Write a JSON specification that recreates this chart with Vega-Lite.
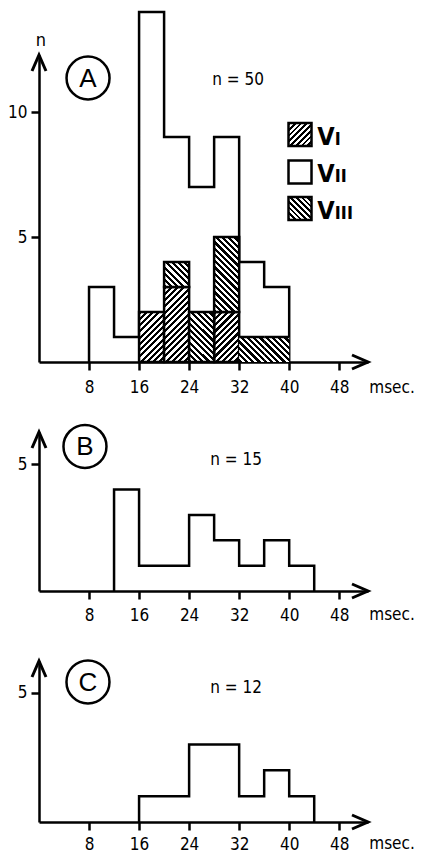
{
"$schema": "https://vega.github.io/schema/vega-lite/v6.json",
"background": "white",
"padding": {"left": 7, "top": 6, "right": 5, "bottom": 0},
"bounds": "flush",
"spacing": 70,
"datasets": {
 "outline": [
  {"panel":"A","ms":8,"n":0},{"panel":"A","ms":8,"n":3},{"panel":"A","ms":12,"n":1},{"panel":"A","ms":16,"n":14},{"panel":"A","ms":20,"n":9},{"panel":"A","ms":24,"n":7},{"panel":"A","ms":28,"n":9},{"panel":"A","ms":32,"n":4},{"panel":"A","ms":36,"n":3},{"panel":"A","ms":40,"n":0},
  {"panel":"B","ms":12,"n":0},{"panel":"B","ms":12,"n":4},{"panel":"B","ms":16,"n":1},{"panel":"B","ms":20,"n":1},{"panel":"B","ms":24,"n":3},{"panel":"B","ms":28,"n":2},{"panel":"B","ms":32,"n":1},{"panel":"B","ms":36,"n":2},{"panel":"B","ms":40,"n":1},{"panel":"B","ms":44,"n":0},
  {"panel":"C","ms":16,"n":0},{"panel":"C","ms":16,"n":1},{"panel":"C","ms":20,"n":1},{"panel":"C","ms":24,"n":3},{"panel":"C","ms":28,"n":3},{"panel":"C","ms":32,"n":1},{"panel":"C","ms":36,"n":2},{"panel":"C","ms":40,"n":1},{"panel":"C","ms":44,"n":0}
 ],
 "hatch": [
  {"start":16,"end":20,"series":"VI","n":2},
  {"start":20,"end":24,"series":"VI","n":3},
  {"start":28,"end":32,"series":"VI","n":2},
  {"start":20,"end":24,"series":"VIII","n":1},
  {"start":24,"end":28,"series":"VIII","n":2},
  {"start":28,"end":32,"series":"VIII","n":3},
  {"start":32,"end":36,"series":"VIII","n":1},
  {"start":36,"end":40,"series":"VIII","n":1}
 ]
},
"config": {
 "view": {"stroke": null},
 "text": {"color": "black", "font": "DejaVu Sans Condensed, Roboto, sans-serif"},
 "axis": {"domainColor": "black", "domainWidth": 2.5, "tickColor": "black", "tickWidth": 2.5, "tickSize": 8, "labelColor": "black", "labelFont": "DejaVu Sans Condensed, Roboto, sans-serif", "labelFontSize": 17, "grid": false},
 "axisX": {"labelPadding": 10, "labelAngle": 0},
 "axisY": {"labelPadding": 4}
},
"vconcat": [
 {
  "width": 329, "height": 307,
  "resolve": {"axis": {"x": "independent", "y": "independent"}},
  "layer": [
   {"data": {"name": "outline"}, "transform": [{"filter": "datum.panel === 'A'"}],
    "mark": {"type": "line", "interpolate": "step-after", "color": "black", "strokeWidth": 2.5, "strokeJoin": "miter"},
    "encoding": {
     "x": {"field": "ms", "type": "quantitative", "scale": {"domain": [0, 52.6], "nice": false}, "axis": {"values": [8,16,24,32,40,48], "title": null, "labelPadding": 9}},
     "y": {"field": "n", "type": "quantitative", "scale": {"domain": [0, 12.28], "nice": false}, "axis": {"values": [5,10], "title": null}}}},
   {"data": {"name": "hatch"}, "transform": [{"stack": "n", "groupby": ["start"], "sort": [{"field": "series"}], "as": ["lo", "hi"]}, {"filter": "datum.series === 'VI' && datum.n === 2"}],
    "mark": {"type": "rect", "stroke": "black", "strokeWidth": 2.5, "fill": {"gradient": "linear", "x1": 0, "y1": 0, "x2": 0.6, "y2": 1.2, "stops": [{"offset":0,"color":"#000"},{"offset":0.041667,"color":"#000"},{"offset":0.041667,"color":"#fff"},{"offset":0.083333,"color":"#fff"},{"offset":0.083333,"color":"#000"},{"offset":0.125,"color":"#000"},{"offset":0.125,"color":"#fff"},{"offset":0.166667,"color":"#fff"},{"offset":0.166667,"color":"#000"},{"offset":0.208333,"color":"#000"},{"offset":0.208333,"color":"#fff"},{"offset":0.25,"color":"#fff"},{"offset":0.25,"color":"#000"},{"offset":0.291667,"color":"#000"},{"offset":0.291667,"color":"#fff"},{"offset":0.333333,"color":"#fff"},{"offset":0.333333,"color":"#000"},{"offset":0.375,"color":"#000"},{"offset":0.375,"color":"#fff"},{"offset":0.416667,"color":"#fff"},{"offset":0.416667,"color":"#000"},{"offset":0.458333,"color":"#000"},{"offset":0.458333,"color":"#fff"},{"offset":0.5,"color":"#fff"},{"offset":0.5,"color":"#000"},{"offset":0.541667,"color":"#000"},{"offset":0.541667,"color":"#fff"},{"offset":0.583333,"color":"#fff"},{"offset":0.583333,"color":"#000"},{"offset":0.625,"color":"#000"},{"offset":0.625,"color":"#fff"},{"offset":0.666667,"color":"#fff"},{"offset":0.666667,"color":"#000"},{"offset":0.708333,"color":"#000"},{"offset":0.708333,"color":"#fff"},{"offset":0.75,"color":"#fff"},{"offset":0.75,"color":"#000"},{"offset":0.791667,"color":"#000"},{"offset":0.791667,"color":"#fff"},{"offset":0.833333,"color":"#fff"},{"offset":0.833333,"color":"#000"},{"offset":0.875,"color":"#000"},{"offset":0.875,"color":"#fff"},{"offset":0.916667,"color":"#fff"},{"offset":0.916667,"color":"#000"},{"offset":0.958333,"color":"#000"},{"offset":0.958333,"color":"#fff"},{"offset":1,"color":"#fff"}]}},
    "encoding": {"x": {"field": "start", "type": "quantitative", "axis": null}, "x2": {"field": "end"}, "y": {"field": "lo", "type": "quantitative", "axis": null}, "y2": {"field": "hi"}}},
   {"data": {"name": "hatch"}, "transform": [{"stack": "n", "groupby": ["start"], "sort": [{"field": "series"}], "as": ["lo", "hi"]}, {"filter": "datum.series === 'VI' && datum.n === 3"}],
    "mark": {"type": "rect", "stroke": "black", "strokeWidth": 2.5, "fill": {"gradient": "linear", "x1": 0, "y1": 0, "x2": 0.4, "y2": 1.2, "stops": [{"offset":0,"color":"#000"},{"offset":0.03125,"color":"#000"},{"offset":0.03125,"color":"#fff"},{"offset":0.0625,"color":"#fff"},{"offset":0.0625,"color":"#000"},{"offset":0.09375,"color":"#000"},{"offset":0.09375,"color":"#fff"},{"offset":0.125,"color":"#fff"},{"offset":0.125,"color":"#000"},{"offset":0.15625,"color":"#000"},{"offset":0.15625,"color":"#fff"},{"offset":0.1875,"color":"#fff"},{"offset":0.1875,"color":"#000"},{"offset":0.21875,"color":"#000"},{"offset":0.21875,"color":"#fff"},{"offset":0.25,"color":"#fff"},{"offset":0.25,"color":"#000"},{"offset":0.28125,"color":"#000"},{"offset":0.28125,"color":"#fff"},{"offset":0.3125,"color":"#fff"},{"offset":0.3125,"color":"#000"},{"offset":0.34375,"color":"#000"},{"offset":0.34375,"color":"#fff"},{"offset":0.375,"color":"#fff"},{"offset":0.375,"color":"#000"},{"offset":0.40625,"color":"#000"},{"offset":0.40625,"color":"#fff"},{"offset":0.4375,"color":"#fff"},{"offset":0.4375,"color":"#000"},{"offset":0.46875,"color":"#000"},{"offset":0.46875,"color":"#fff"},{"offset":0.5,"color":"#fff"},{"offset":0.5,"color":"#000"},{"offset":0.53125,"color":"#000"},{"offset":0.53125,"color":"#fff"},{"offset":0.5625,"color":"#fff"},{"offset":0.5625,"color":"#000"},{"offset":0.59375,"color":"#000"},{"offset":0.59375,"color":"#fff"},{"offset":0.625,"color":"#fff"},{"offset":0.625,"color":"#000"},{"offset":0.65625,"color":"#000"},{"offset":0.65625,"color":"#fff"},{"offset":0.6875,"color":"#fff"},{"offset":0.6875,"color":"#000"},{"offset":0.71875,"color":"#000"},{"offset":0.71875,"color":"#fff"},{"offset":0.75,"color":"#fff"},{"offset":0.75,"color":"#000"},{"offset":0.78125,"color":"#000"},{"offset":0.78125,"color":"#fff"},{"offset":0.8125,"color":"#fff"},{"offset":0.8125,"color":"#000"},{"offset":0.84375,"color":"#000"},{"offset":0.84375,"color":"#fff"},{"offset":0.875,"color":"#fff"},{"offset":0.875,"color":"#000"},{"offset":0.90625,"color":"#000"},{"offset":0.90625,"color":"#fff"},{"offset":0.9375,"color":"#fff"},{"offset":0.9375,"color":"#000"},{"offset":0.96875,"color":"#000"},{"offset":0.96875,"color":"#fff"},{"offset":1,"color":"#fff"}]}},
    "encoding": {"x": {"field": "start", "type": "quantitative", "axis": null}, "x2": {"field": "end"}, "y": {"field": "lo", "type": "quantitative", "axis": null}, "y2": {"field": "hi"}}},
   {"data": {"name": "hatch"}, "transform": [{"stack": "n", "groupby": ["start"], "sort": [{"field": "series"}], "as": ["lo", "hi"]}, {"filter": "datum.series === 'VIII' && datum.n === 1 && datum.start < 30"}],
    "mark": {"type": "rect", "stroke": "black", "strokeWidth": 2.5, "fill": {"gradient": "linear", "x1": 0, "y1": 1, "x2": 1, "y2": 0, "stops": [{"offset":0,"color":"#000"},{"offset":0.0625,"color":"#000"},{"offset":0.0625,"color":"#fff"},{"offset":0.125,"color":"#fff"},{"offset":0.125,"color":"#000"},{"offset":0.1875,"color":"#000"},{"offset":0.1875,"color":"#fff"},{"offset":0.25,"color":"#fff"},{"offset":0.25,"color":"#000"},{"offset":0.3125,"color":"#000"},{"offset":0.3125,"color":"#fff"},{"offset":0.375,"color":"#fff"},{"offset":0.375,"color":"#000"},{"offset":0.4375,"color":"#000"},{"offset":0.4375,"color":"#fff"},{"offset":0.5,"color":"#fff"},{"offset":0.5,"color":"#000"},{"offset":0.5625,"color":"#000"},{"offset":0.5625,"color":"#fff"},{"offset":0.625,"color":"#fff"},{"offset":0.625,"color":"#000"},{"offset":0.6875,"color":"#000"},{"offset":0.6875,"color":"#fff"},{"offset":0.75,"color":"#fff"},{"offset":0.75,"color":"#000"},{"offset":0.8125,"color":"#000"},{"offset":0.8125,"color":"#fff"},{"offset":0.875,"color":"#fff"},{"offset":0.875,"color":"#000"},{"offset":0.9375,"color":"#000"},{"offset":0.9375,"color":"#fff"},{"offset":1,"color":"#fff"}]}},
    "encoding": {"x": {"field": "start", "type": "quantitative", "axis": null}, "x2": {"field": "end"}, "y": {"field": "lo", "type": "quantitative", "axis": null}, "y2": {"field": "hi"}}},
   {"data": {"name": "hatch"}, "transform": [{"stack": "n", "groupby": ["start"], "sort": [{"field": "series"}], "as": ["lo", "hi"]}, {"filter": "datum.series === 'VIII' && datum.n === 1 && datum.start > 30"}],
    "mark": {"type": "rect", "fill": {"gradient": "linear", "x1": 0, "y1": 1, "x2": 1, "y2": 0, "stops": [{"offset":0,"color":"#000"},{"offset":0.0625,"color":"#000"},{"offset":0.0625,"color":"#fff"},{"offset":0.125,"color":"#fff"},{"offset":0.125,"color":"#000"},{"offset":0.1875,"color":"#000"},{"offset":0.1875,"color":"#fff"},{"offset":0.25,"color":"#fff"},{"offset":0.25,"color":"#000"},{"offset":0.3125,"color":"#000"},{"offset":0.3125,"color":"#fff"},{"offset":0.375,"color":"#fff"},{"offset":0.375,"color":"#000"},{"offset":0.4375,"color":"#000"},{"offset":0.4375,"color":"#fff"},{"offset":0.5,"color":"#fff"},{"offset":0.5,"color":"#000"},{"offset":0.5625,"color":"#000"},{"offset":0.5625,"color":"#fff"},{"offset":0.625,"color":"#fff"},{"offset":0.625,"color":"#000"},{"offset":0.6875,"color":"#000"},{"offset":0.6875,"color":"#fff"},{"offset":0.75,"color":"#fff"},{"offset":0.75,"color":"#000"},{"offset":0.8125,"color":"#000"},{"offset":0.8125,"color":"#fff"},{"offset":0.875,"color":"#fff"},{"offset":0.875,"color":"#000"},{"offset":0.9375,"color":"#000"},{"offset":0.9375,"color":"#fff"},{"offset":1,"color":"#fff"}]}},
    "encoding": {"x": {"field": "start", "type": "quantitative", "axis": null}, "x2": {"field": "end"}, "y": {"field": "lo", "type": "quantitative", "axis": null}, "y2": {"field": "hi"}}},
   {"data": {"name": "hatch"}, "transform": [{"stack": "n", "groupby": ["start"], "sort": [{"field": "series"}], "as": ["lo", "hi"]}, {"filter": "datum.series === 'VIII' && datum.n === 2"}],
    "mark": {"type": "rect", "stroke": "black", "strokeWidth": 2.5, "fill": {"gradient": "linear", "x1": 0, "y1": 1, "x2": 0.6, "y2": -0.2, "stops": [{"offset":0,"color":"#000"},{"offset":0.041667,"color":"#000"},{"offset":0.041667,"color":"#fff"},{"offset":0.083333,"color":"#fff"},{"offset":0.083333,"color":"#000"},{"offset":0.125,"color":"#000"},{"offset":0.125,"color":"#fff"},{"offset":0.166667,"color":"#fff"},{"offset":0.166667,"color":"#000"},{"offset":0.208333,"color":"#000"},{"offset":0.208333,"color":"#fff"},{"offset":0.25,"color":"#fff"},{"offset":0.25,"color":"#000"},{"offset":0.291667,"color":"#000"},{"offset":0.291667,"color":"#fff"},{"offset":0.333333,"color":"#fff"},{"offset":0.333333,"color":"#000"},{"offset":0.375,"color":"#000"},{"offset":0.375,"color":"#fff"},{"offset":0.416667,"color":"#fff"},{"offset":0.416667,"color":"#000"},{"offset":0.458333,"color":"#000"},{"offset":0.458333,"color":"#fff"},{"offset":0.5,"color":"#fff"},{"offset":0.5,"color":"#000"},{"offset":0.541667,"color":"#000"},{"offset":0.541667,"color":"#fff"},{"offset":0.583333,"color":"#fff"},{"offset":0.583333,"color":"#000"},{"offset":0.625,"color":"#000"},{"offset":0.625,"color":"#fff"},{"offset":0.666667,"color":"#fff"},{"offset":0.666667,"color":"#000"},{"offset":0.708333,"color":"#000"},{"offset":0.708333,"color":"#fff"},{"offset":0.75,"color":"#fff"},{"offset":0.75,"color":"#000"},{"offset":0.791667,"color":"#000"},{"offset":0.791667,"color":"#fff"},{"offset":0.833333,"color":"#fff"},{"offset":0.833333,"color":"#000"},{"offset":0.875,"color":"#000"},{"offset":0.875,"color":"#fff"},{"offset":0.916667,"color":"#fff"},{"offset":0.916667,"color":"#000"},{"offset":0.958333,"color":"#000"},{"offset":0.958333,"color":"#fff"},{"offset":1,"color":"#fff"}]}},
    "encoding": {"x": {"field": "start", "type": "quantitative", "axis": null}, "x2": {"field": "end"}, "y": {"field": "lo", "type": "quantitative", "axis": null}, "y2": {"field": "hi"}}},
   {"data": {"name": "hatch"}, "transform": [{"stack": "n", "groupby": ["start"], "sort": [{"field": "series"}], "as": ["lo", "hi"]}, {"filter": "datum.series === 'VIII' && datum.n === 3"}],
    "mark": {"type": "rect", "stroke": "black", "strokeWidth": 2.5, "fill": {"gradient": "linear", "x1": 0, "y1": 1, "x2": 0.4, "y2": -0.2, "stops": [{"offset":0,"color":"#000"},{"offset":0.03125,"color":"#000"},{"offset":0.03125,"color":"#fff"},{"offset":0.0625,"color":"#fff"},{"offset":0.0625,"color":"#000"},{"offset":0.09375,"color":"#000"},{"offset":0.09375,"color":"#fff"},{"offset":0.125,"color":"#fff"},{"offset":0.125,"color":"#000"},{"offset":0.15625,"color":"#000"},{"offset":0.15625,"color":"#fff"},{"offset":0.1875,"color":"#fff"},{"offset":0.1875,"color":"#000"},{"offset":0.21875,"color":"#000"},{"offset":0.21875,"color":"#fff"},{"offset":0.25,"color":"#fff"},{"offset":0.25,"color":"#000"},{"offset":0.28125,"color":"#000"},{"offset":0.28125,"color":"#fff"},{"offset":0.3125,"color":"#fff"},{"offset":0.3125,"color":"#000"},{"offset":0.34375,"color":"#000"},{"offset":0.34375,"color":"#fff"},{"offset":0.375,"color":"#fff"},{"offset":0.375,"color":"#000"},{"offset":0.40625,"color":"#000"},{"offset":0.40625,"color":"#fff"},{"offset":0.4375,"color":"#fff"},{"offset":0.4375,"color":"#000"},{"offset":0.46875,"color":"#000"},{"offset":0.46875,"color":"#fff"},{"offset":0.5,"color":"#fff"},{"offset":0.5,"color":"#000"},{"offset":0.53125,"color":"#000"},{"offset":0.53125,"color":"#fff"},{"offset":0.5625,"color":"#fff"},{"offset":0.5625,"color":"#000"},{"offset":0.59375,"color":"#000"},{"offset":0.59375,"color":"#fff"},{"offset":0.625,"color":"#fff"},{"offset":0.625,"color":"#000"},{"offset":0.65625,"color":"#000"},{"offset":0.65625,"color":"#fff"},{"offset":0.6875,"color":"#fff"},{"offset":0.6875,"color":"#000"},{"offset":0.71875,"color":"#000"},{"offset":0.71875,"color":"#fff"},{"offset":0.75,"color":"#fff"},{"offset":0.75,"color":"#000"},{"offset":0.78125,"color":"#000"},{"offset":0.78125,"color":"#fff"},{"offset":0.8125,"color":"#fff"},{"offset":0.8125,"color":"#000"},{"offset":0.84375,"color":"#000"},{"offset":0.84375,"color":"#fff"},{"offset":0.875,"color":"#fff"},{"offset":0.875,"color":"#000"},{"offset":0.90625,"color":"#000"},{"offset":0.90625,"color":"#fff"},{"offset":0.9375,"color":"#fff"},{"offset":0.9375,"color":"#000"},{"offset":0.96875,"color":"#000"},{"offset":0.96875,"color":"#fff"},{"offset":1,"color":"#fff"}]}},
    "encoding": {"x": {"field": "start", "type": "quantitative", "axis": null}, "x2": {"field": "end"}, "y": {"field": "lo", "type": "quantitative", "axis": null}, "y2": {"field": "hi"}}},
   {"data": {"name": "hatch"}, "transform": [{"stack": "n", "groupby": ["start"], "sort": [{"field": "series"}], "as": ["lo", "hi"]}, {"filter": "datum.series === 'VIII' && datum.start > 30"}],
    "mark": {"type": "rule", "color": "black", "strokeWidth": 2.5},
    "encoding": {"x": {"field": "start", "type": "quantitative", "axis": null}, "x2": {"field": "end"}, "y": {"field": "hi", "type": "quantitative", "axis": null}}},
   {"data": {"values": [{}]}, "mark": {"type": "point", "shape": "M-7,16L0,0L7,16", "size": 4, "filled": false, "stroke": "black", "strokeWidth": 3, "opacity": 1},
    "encoding": {"x": {"datum": 0, "type": "quantitative", "axis": null}, "y": {"datum": 12.28, "type": "quantitative", "axis": null}}},
   {"data": {"values": [{}]}, "mark": {"type": "point", "shape": "M-16,-7L0,0L-16,7", "size": 4, "filled": false, "stroke": "black", "strokeWidth": 3, "opacity": 1},
    "encoding": {"x": {"datum": 52.6, "type": "quantitative", "axis": null}, "y": {"datum": 0, "type": "quantitative", "axis": null}}},
   {"data": {"values": [{"t": "n"}]}, "mark": {"type": "text", "fontSize": 18, "baseline": "middle"},
    "encoding": {"text": {"field": "t"}, "x": {"datum": 0.3, "type": "quantitative", "axis": null}, "y": {"datum": 12.86, "type": "quantitative", "axis": null}}},
   {"data": {"values": [{}]}, "mark": {"type": "point", "shape": "circle", "size": 1849, "filled": false, "stroke": "black", "strokeWidth": 2.5, "opacity": 1},
    "encoding": {"x": {"datum": 7.84, "type": "quantitative", "axis": null}, "y": {"datum": 11.36, "type": "quantitative", "axis": null}}},
   {"data": {"values": [{"t": "A"}]}, "mark": {"type": "text", "fontSize": 26, "font": "Liberation Sans", "baseline": "middle", "dy": 1},
    "encoding": {"text": {"field": "t"}, "x": {"datum": 7.84, "type": "quantitative", "axis": null}, "y": {"datum": 11.36, "type": "quantitative", "axis": null}}},
   {"data": {"values": [{"t": "n = 50"}]}, "mark": {"type": "text", "fontSize": 17, "baseline": "middle"},
    "encoding": {"text": {"field": "t"}, "x": {"datum": 31.84, "type": "quantitative", "axis": null}, "y": {"datum": 11.28, "type": "quantitative", "axis": null}}},
   {"data": {"values": [{"series": "VI"}]}, "mark": {"type": "point", "shape": "square", "size": 529, "stroke": "black", "strokeWidth": 2.5, "opacity": 1, "fill": {"gradient": "linear", "x1": 0, "y1": 0, "x2": 1, "y2": 1, "stops": [{"offset":0,"color":"#000"},{"offset":0.0625,"color":"#000"},{"offset":0.0625,"color":"#fff"},{"offset":0.125,"color":"#fff"},{"offset":0.125,"color":"#000"},{"offset":0.1875,"color":"#000"},{"offset":0.1875,"color":"#fff"},{"offset":0.25,"color":"#fff"},{"offset":0.25,"color":"#000"},{"offset":0.3125,"color":"#000"},{"offset":0.3125,"color":"#fff"},{"offset":0.375,"color":"#fff"},{"offset":0.375,"color":"#000"},{"offset":0.4375,"color":"#000"},{"offset":0.4375,"color":"#fff"},{"offset":0.5,"color":"#fff"},{"offset":0.5,"color":"#000"},{"offset":0.5625,"color":"#000"},{"offset":0.5625,"color":"#fff"},{"offset":0.625,"color":"#fff"},{"offset":0.625,"color":"#000"},{"offset":0.6875,"color":"#000"},{"offset":0.6875,"color":"#fff"},{"offset":0.75,"color":"#fff"},{"offset":0.75,"color":"#000"},{"offset":0.8125,"color":"#000"},{"offset":0.8125,"color":"#fff"},{"offset":0.875,"color":"#fff"},{"offset":0.875,"color":"#000"},{"offset":0.9375,"color":"#000"},{"offset":0.9375,"color":"#fff"},{"offset":1,"color":"#fff"}]}},
    "encoding": {"x": {"datum": 41.73, "type": "quantitative", "axis": null}, "y": {"datum": 9.1, "type": "quantitative", "axis": null}}},
   {"data": {"values": [{"series": "VII"}]}, "mark": {"type": "point", "shape": "square", "size": 529, "stroke": "black", "strokeWidth": 2.5, "opacity": 1, "fill": "white"},
    "encoding": {"x": {"datum": 41.73, "type": "quantitative", "axis": null}, "y": {"datum": 7.6, "type": "quantitative", "axis": null}}},
   {"data": {"values": [{"series": "VIII"}]}, "mark": {"type": "point", "shape": "square", "size": 529, "stroke": "black", "strokeWidth": 2.5, "opacity": 1, "fill": {"gradient": "linear", "x1": 0, "y1": 1, "x2": 1, "y2": 0, "stops": [{"offset":0,"color":"#000"},{"offset":0.0625,"color":"#000"},{"offset":0.0625,"color":"#fff"},{"offset":0.125,"color":"#fff"},{"offset":0.125,"color":"#000"},{"offset":0.1875,"color":"#000"},{"offset":0.1875,"color":"#fff"},{"offset":0.25,"color":"#fff"},{"offset":0.25,"color":"#000"},{"offset":0.3125,"color":"#000"},{"offset":0.3125,"color":"#fff"},{"offset":0.375,"color":"#fff"},{"offset":0.375,"color":"#000"},{"offset":0.4375,"color":"#000"},{"offset":0.4375,"color":"#fff"},{"offset":0.5,"color":"#fff"},{"offset":0.5,"color":"#000"},{"offset":0.5625,"color":"#000"},{"offset":0.5625,"color":"#fff"},{"offset":0.625,"color":"#fff"},{"offset":0.625,"color":"#000"},{"offset":0.6875,"color":"#000"},{"offset":0.6875,"color":"#fff"},{"offset":0.75,"color":"#fff"},{"offset":0.75,"color":"#000"},{"offset":0.8125,"color":"#000"},{"offset":0.8125,"color":"#fff"},{"offset":0.875,"color":"#fff"},{"offset":0.875,"color":"#000"},{"offset":0.9375,"color":"#000"},{"offset":0.9375,"color":"#fff"},{"offset":1,"color":"#fff"}]}},
    "encoding": {"x": {"datum": 41.73, "type": "quantitative", "axis": null}, "y": {"datum": 6.14, "type": "quantitative", "axis": null}}},
   {"data": {"values": [{"t": ["V", "V", "V"]}]}, "mark": {"type": "text", "fontSize": 25, "fontWeight": "bold", "align": "left", "baseline": "alphabetic", "lineHeight": 37},
    "encoding": {"text": {"field": "t"}, "x": {"datum": 44.5, "type": "quantitative", "axis": null}, "y": {"datum": 8.68, "type": "quantitative", "axis": null}}},
   {"data": {"values": [{"t": ["I", "II", "III"]}]}, "mark": {"type": "text", "fontSize": 18, "fontWeight": "bold", "align": "left", "baseline": "alphabetic", "lineHeight": 37},
    "encoding": {"text": {"field": "t"}, "x": {"datum": 47.3, "type": "quantitative", "axis": null}, "y": {"datum": 8.68, "type": "quantitative", "axis": null}}},
   {"data": {"values": [{"t": "msec."}]}, "mark": {"type": "text", "fontSize": 17, "align": "left", "baseline": "middle", "dy": 26},
    "encoding": {"text": {"field": "t"}, "x": {"datum": 52.8, "type": "quantitative", "axis": null}, "y": {"datum": 0, "type": "quantitative", "axis": null}}}
  ]
 },
 {
  "width": 329, "height": 159,
  "resolve": {"axis": {"x": "independent", "y": "independent"}},
  "layer": [
   {"data": {"name": "outline"}, "transform": [{"filter": "datum.panel === 'B'"}],
    "mark": {"type": "line", "interpolate": "step-after", "color": "black", "strokeWidth": 2.5, "strokeJoin": "miter"},
    "encoding": {
     "x": {"field": "ms", "type": "quantitative", "scale": {"domain": [0, 52.6], "nice": false}, "axis": {"values": [8,16,24,32,40,48], "title": null, "labelPadding": 8}},
     "y": {"field": "n", "type": "quantitative", "scale": {"domain": [0, 6.27], "nice": false}, "axis": {"values": [5], "title": null}}}},
   {"data": {"values": [{}]}, "mark": {"type": "point", "shape": "M-7,16L0,0L7,16", "size": 4, "filled": false, "stroke": "black", "strokeWidth": 3, "opacity": 1},
    "encoding": {"x": {"datum": 0, "type": "quantitative", "axis": null}, "y": {"datum": 6.27, "type": "quantitative", "axis": null}}},
   {"data": {"values": [{}]}, "mark": {"type": "point", "shape": "M-16,-7L0,0L-16,7", "size": 4, "filled": false, "stroke": "black", "strokeWidth": 3, "opacity": 1},
    "encoding": {"x": {"datum": 52.6, "type": "quantitative", "axis": null}, "y": {"datum": 0, "type": "quantitative", "axis": null}}},
   {"data": {"values": [{}]}, "mark": {"type": "point", "shape": "circle", "size": 1849, "filled": false, "stroke": "black", "strokeWidth": 2.5, "opacity": 1},
    "encoding": {"x": {"datum": 7.35, "type": "quantitative", "axis": null}, "y": {"datum": 5.7, "type": "quantitative", "axis": null}}},
   {"data": {"values": [{"t": "B"}]}, "mark": {"type": "text", "fontSize": 26, "font": "Liberation Sans", "baseline": "middle", "dy": 1},
    "encoding": {"text": {"field": "t"}, "x": {"datum": 7.35, "type": "quantitative", "axis": null}, "y": {"datum": 5.7, "type": "quantitative", "axis": null}}},
   {"data": {"values": [{"t": "n = 15"}]}, "mark": {"type": "text", "fontSize": 17, "baseline": "middle"},
    "encoding": {"text": {"field": "t"}, "x": {"datum": 31.5, "type": "quantitative", "axis": null}, "y": {"datum": 5.15, "type": "quantitative", "axis": null}}},
   {"data": {"values": [{"t": "msec."}]}, "mark": {"type": "text", "fontSize": 17, "align": "left", "baseline": "middle", "dy": 24},
    "encoding": {"text": {"field": "t"}, "x": {"datum": 52.8, "type": "quantitative", "axis": null}, "y": {"datum": 0, "type": "quantitative", "axis": null}}}
  ]
 },
 {
  "width": 329, "height": 161,
  "resolve": {"axis": {"x": "independent", "y": "independent"}},
  "layer": [
   {"data": {"name": "outline"}, "transform": [{"filter": "datum.panel === 'C'"}],
    "mark": {"type": "line", "interpolate": "step-after", "color": "black", "strokeWidth": 2.5, "strokeJoin": "miter"},
    "encoding": {
     "x": {"field": "ms", "type": "quantitative", "scale": {"domain": [0, 52.6], "nice": false}, "axis": {"values": [8,16,24,32,40,48], "title": null, "labelPadding": 6}},
     "y": {"field": "n", "type": "quantitative", "scale": {"domain": [0, 6.23], "nice": false}, "axis": {"values": [5], "title": null}}}},
   {"data": {"values": [{}]}, "mark": {"type": "point", "shape": "M-7,16L0,0L7,16", "size": 4, "filled": false, "stroke": "black", "strokeWidth": 3, "opacity": 1},
    "encoding": {"x": {"datum": 0, "type": "quantitative", "axis": null}, "y": {"datum": 6.23, "type": "quantitative", "axis": null}}},
   {"data": {"values": [{}]}, "mark": {"type": "point", "shape": "M-16,-7L0,0L-16,7", "size": 4, "filled": false, "stroke": "black", "strokeWidth": 3, "opacity": 1},
    "encoding": {"x": {"datum": 52.6, "type": "quantitative", "axis": null}, "y": {"datum": 0, "type": "quantitative", "axis": null}}},
   {"data": {"values": [{}]}, "mark": {"type": "point", "shape": "circle", "size": 1849, "filled": false, "stroke": "black", "strokeWidth": 2.5, "opacity": 1},
    "encoding": {"x": {"datum": 7.83, "type": "quantitative", "axis": null}, "y": {"datum": 5.42, "type": "quantitative", "axis": null}}},
   {"data": {"values": [{"t": "C"}]}, "mark": {"type": "text", "fontSize": 26, "font": "Liberation Sans", "baseline": "middle", "dy": 1},
    "encoding": {"text": {"field": "t"}, "x": {"datum": 7.83, "type": "quantitative", "axis": null}, "y": {"datum": 5.42, "type": "quantitative", "axis": null}}},
   {"data": {"values": [{"t": "n = 12"}]}, "mark": {"type": "text", "fontSize": 17, "baseline": "middle"},
    "encoding": {"text": {"field": "t"}, "x": {"datum": 31.5, "type": "quantitative", "axis": null}, "y": {"datum": 5.19, "type": "quantitative", "axis": null}}},
   {"data": {"values": [{"t": "msec."}]}, "mark": {"type": "text", "fontSize": 17, "align": "left", "baseline": "middle", "dy": 22},
    "encoding": {"text": {"field": "t"}, "x": {"datum": 52.8, "type": "quantitative", "axis": null}, "y": {"datum": 0, "type": "quantitative", "axis": null}}}
  ]
 }
]
}
